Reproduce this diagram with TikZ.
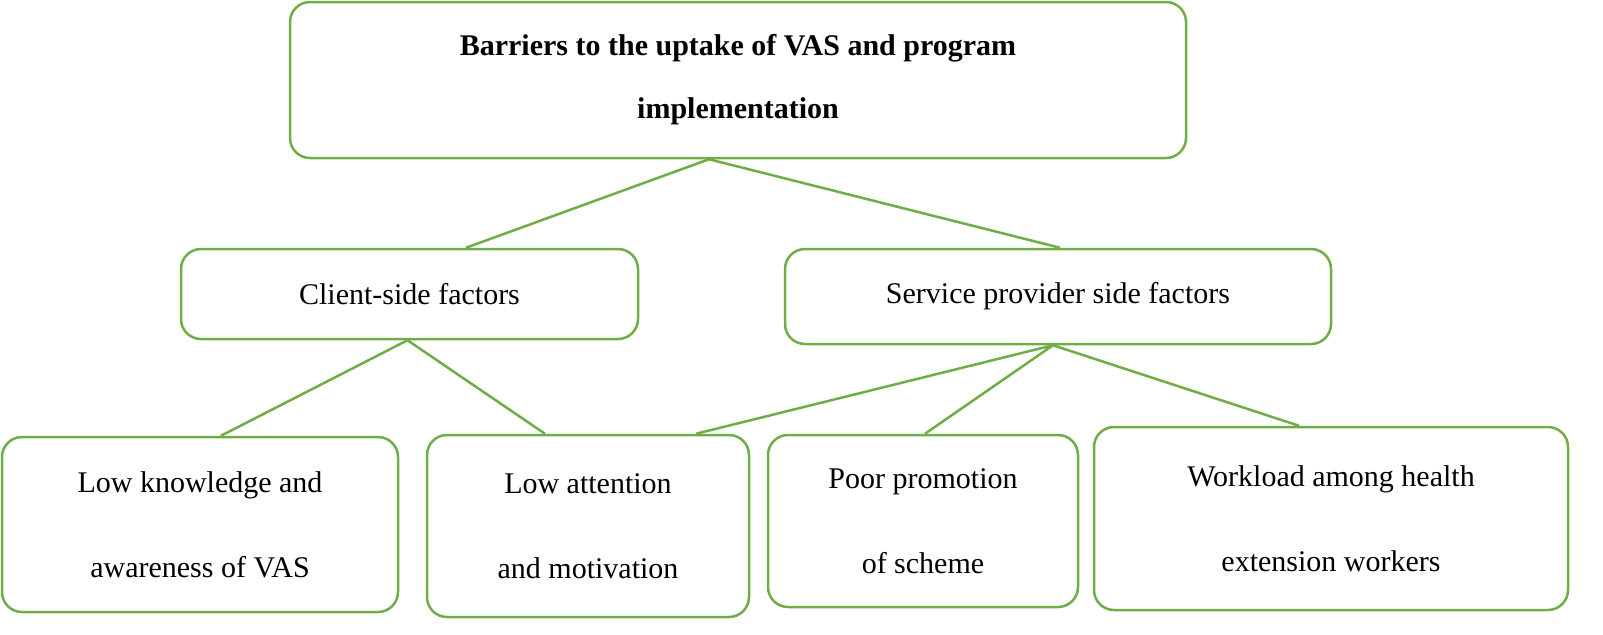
\documentclass[tikz,border=0pt]{standalone}
\usepackage{fontspec}
\setmainfont{Liberation Serif}
\definecolor{boxgreen}{HTML}{70AD47}
\begin{document}
\begin{tikzpicture}[x=0.5pt,y=-0.5pt,
  box/.style={draw=boxgreen,line width=1.25pt,rounded corners=10pt,align=center,font=\fontsize{15}{20}\selectfont,inner sep=0pt},
  link/.style={draw=boxgreen,line width=1.25pt}]
\useasboundingbox (0,0) rectangle (1603,634);
\node[box,minimum width=448pt,minimum height=78pt,font=\fontsize{15}{31.5}\selectfont\bfseries] (top) at (738,80) {Barriers to the uptake of VAS and program\\implementation};
\node[box,minimum width=228.5pt,minimum height=45pt] (client) at (409.5,294) {Client-side factors};
\node[box,minimum width=273pt,minimum height=47.5pt] (service) at (1058,296.5) {Service provider side factors};
\node[box,minimum width=198pt,minimum height=87.5pt,font=\fontsize{15}{42.5}\selectfont] (know) at (200,524.5) {Low knowledge and\\awareness of VAS};
\node[box,minimum width=161pt,minimum height=91pt,font=\fontsize{15}{42.5}\selectfont] (att) at (588,526) {Low attention\\and motivation};
\node[box,minimum width=155pt,minimum height=86pt,font=\fontsize{15}{42.5}\selectfont] (promo) at (923,521) {Poor promotion\\of scheme};
\node[box,minimum width=237pt,minimum height=91.5pt,font=\fontsize{15}{42.5}\selectfont] (work) at (1331,518.5) {Workload among health\\extension workers};
\draw[link] ([xshift=-14.5pt]top.south) -- ([xshift=28.25pt]client.north);
\draw[link] ([xshift=-14.5pt]top.south) -- ([xshift=1pt]service.north);
\draw[link] ([xshift=-1pt]client.south) -- ([xshift=10.5pt]know.north);
\draw[link] ([xshift=-1pt]client.south) -- ([xshift=-21.5pt]att.north);
\draw[link] ([xshift=-2.5pt]service.south) -- ([xshift=54pt]att.north);
\draw[link] ([xshift=-2.5pt]service.south) -- ([xshift=1pt]promo.north);
\draw[link] ([xshift=-2.5pt]service.south) -- ([xshift=-16pt]work.north);
\end{tikzpicture}
\end{document}
